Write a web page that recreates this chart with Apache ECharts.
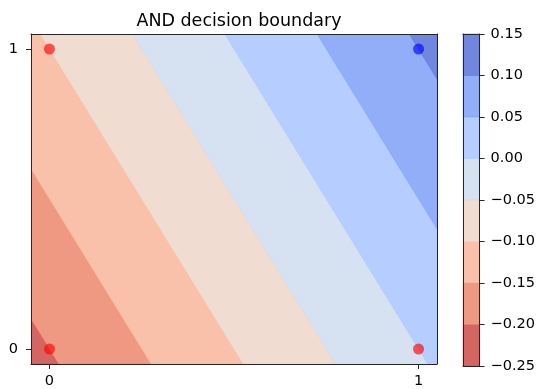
<!DOCTYPE html>
<html>
<head>
<meta charset="utf-8">
<script src="https://cdn.jsdelivr.net/npm/echarts@6/dist/echarts.min.js"></script>
<style>
  html, body { margin: 0; padding: 0; background: #fff; }
  #chart { width: 538px; height: 389px; }
</style>
</head>
<body>
<div id="chart"></div>
<script>
// AND gate training inputs and their target labels
const inputX = [0, 0, 1, 1];
const inputY = [0, 1, 0, 1];
const targets = [0, 0, 0, 1];

// Learned linear model: f(x, y) = w0 * x + w1 * y + bias
const weights = [0.2, 0.1];
const bias = -0.2;

// Plotted extent of the input plane
const extentX = [-0.05, 1.05];
const extentY = [-0.05, 1.05];
const axisTicks = [0, 1];

// Filled contour levels and their band colours (reversed coolwarm, 80% opacity)
const levels = [-0.25, -0.20, -0.15, -0.10, -0.05, 0.00, 0.05, 0.10, 0.15];
const bandColors = [
  'rgba(203,62,56,0.8)',
  'rgba(236,127,99,0.8)',
  'rgba(247,177,148,0.8)',
  'rgba(236,211,197,0.8)',
  'rgba(204,217,238,0.8)',
  'rgba(163,194,255,0.8)',
  'rgba(119,154,247,0.8)',
  'rgba(77,104,215,0.8)'
];
const pointColors = ['rgba(255,0,0,0.8)', 'rgba(0,0,255,0.8)'];

const FONT = 'DejaVu Sans';
const INK = '#262626';

function decision(p) {
  return weights[0] * p[0] + weights[1] * p[1] + bias;
}

// Keep the part of a polygon where sign * (f - level) >= 0
function clipHalfPlane(poly, level, sign) {
  const out = [];
  for (let i = 0; i < poly.length; i++) {
    const a = poly[i];
    const b = poly[(i + 1) % poly.length];
    const da = sign * (decision(a) - level);
    const db = sign * (decision(b) - level);
    if (da >= 0) out.push(a);
    if ((da >= 0) !== (db >= 0)) {
      const t = da / (da - db);
      out.push([a[0] + t * (b[0] - a[0]), a[1] + t * (b[1] - a[1])]);
    }
  }
  return out;
}

function bandPolygon(i) {
  let poly = [
    [extentX[0], extentY[0]], [extentX[1], extentY[0]],
    [extentX[1], extentY[1]], [extentX[0], extentY[1]]
  ];
  poly = clipHalfPlane(poly, levels[i], 1);
  poly = clipHalfPlane(poly, levels[i + 1], -1);
  return poly;
}

function fmtLevel(v) {
  if (Math.abs(v) < 1e-9) return '0.00';
  return (v < 0 ? '\u2212' : '') + Math.abs(v).toFixed(2);
}

const bands = bandColors.map((c, i) => [0.5, 0.5, i]);
const cbBands = bandColors.map((c, i) => [0.5, (levels[i] + levels[i + 1]) / 2, i]);

function frameAxis(extra) {
  return Object.assign({
    type: 'value',
    axisLine: { show: true, onZero: false, lineStyle: { color: INK, width: 1 } },
    splitLine: { show: false },
    axisTick: { show: false },
    axisLabel: { show: false },
    z: 10
  }, extra);
}

const chart = echarts.init(document.getElementById('chart'), null, { renderer: 'canvas' });
chart.setOption({
  animation: false,
  backgroundColor: '#fff',
  title: {
    text: 'AND decision boundary',
    left: 234,
    textAlign: 'center',
    top: 7,
    textStyle: { fontFamily: FONT, fontSize: 17.5, fontWeight: 'normal', color: '#000' }
  },
  grid: [
    { left: 31, top: 34, width: 406, height: 332 },
    { left: 463, top: 34, width: 18, height: 332 }
  ],
  xAxis: [
    frameAxis({
      gridIndex: 0, position: 'bottom', min: extentX[0], max: extentX[1],
      axisTick: { show: true, length: 5, customValues: axisTicks, lineStyle: { color: INK } },
      axisLabel: { show: true, customValues: axisTicks, margin: 10, fontFamily: FONT, fontSize: 14.5, color: '#000' }
    }),
    frameAxis({ gridIndex: 0, position: 'top', min: extentX[0], max: extentX[1] }),
    frameAxis({ gridIndex: 1, position: 'bottom', min: 0, max: 1 }),
    frameAxis({ gridIndex: 1, position: 'top', min: 0, max: 1 })
  ],
  yAxis: [
    frameAxis({
      gridIndex: 0, position: 'left', min: extentY[0], max: extentY[1],
      axisTick: { show: true, length: 5, customValues: axisTicks, lineStyle: { color: INK } },
      axisLabel: { show: true, customValues: axisTicks, margin: 13, fontFamily: FONT, fontSize: 14.5, color: '#000' }
    }),
    frameAxis({ gridIndex: 0, position: 'right', min: extentY[0], max: extentY[1] }),
    frameAxis({
      gridIndex: 1, position: 'right',
      min: levels[0], max: levels[levels.length - 1], interval: 0.05,
      axisTick: { show: true, length: 5, lineStyle: { color: INK } },
      axisLabel: { show: true, margin: 11, fontFamily: FONT, fontSize: 14.5, color: '#000', formatter: fmtLevel }
    }),
    frameAxis({ gridIndex: 1, position: 'left', min: levels[0], max: levels[levels.length - 1] })
  ],
  series: [
    {
      type: 'custom',
      xAxisIndex: 0, yAxisIndex: 0,
      data: bands,
      clip: true,
      z: 1,
      renderItem: function (params, api) {
        const i = api.value(2);
        const pts = bandPolygon(i).map(p => api.coord(p));
        return {
          type: 'polygon',
          shape: { points: pts },
          style: { fill: bandColors[i], stroke: bandColors[i], lineWidth: 0.5 }
        };
      }
    },
    {
      type: 'custom',
      xAxisIndex: 2, yAxisIndex: 2,
      data: cbBands,
      z: 1,
      renderItem: function (params, api) {
        const i = api.value(2);
        const p0 = api.coord([0, levels[i]]);
        const p1 = api.coord([1, levels[i + 1]]);
        return {
          type: 'rect',
          shape: { x: p0[0], y: p1[1], width: p1[0] - p0[0], height: p0[1] - p1[1] },
          style: { fill: bandColors[i], stroke: bandColors[i], lineWidth: 0.5 }
        };
      }
    },
    {
      type: 'scatter',
      xAxisIndex: 0, yAxisIndex: 0,
      symbolSize: 11,
      z: 5,
      data: inputX.map((x, k) => ({
        value: [x, inputY[k]],
        itemStyle: { color: pointColors[targets[k]] }
      }))
    }
  ]
});
</script>
</body>
</html>
